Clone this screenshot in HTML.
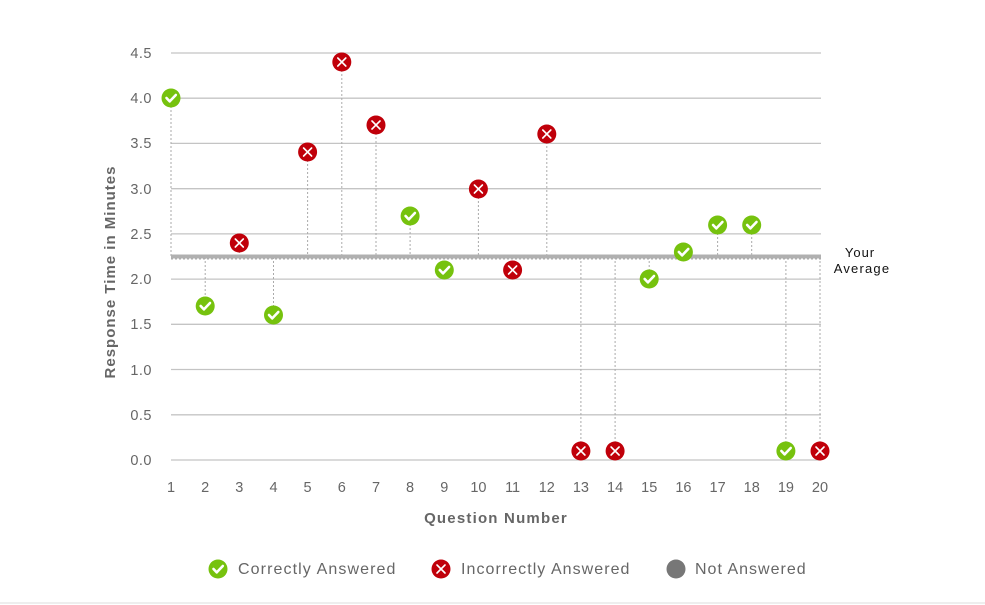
<!DOCTYPE html>
<html><head><meta charset="utf-8"><style>
body{margin:0;background:#fff;}
svg{display:block;font-family:"Liberation Sans",sans-serif;}
</style></head><body>
<svg width="985" height="605" viewBox="0 0 985 605">
<defs>
<g id="c"><circle r="9.5" fill="#76c20e"/><polyline points="-4.5,0 -1.3,3.4 4.8,-3" fill="none" stroke="#fff" stroke-width="2.6" stroke-linecap="round" stroke-linejoin="round"/></g>
<g id="x"><circle r="9.5" fill="#c0000a"/><path d="M-4,-4L4,4M4,-4L-4,4" stroke="#fff" stroke-width="1.6" stroke-linecap="round"/></g>
</defs>
<g stroke="#c4c4c4" stroke-width="1.3">
<line x1="171" x2="821" y1="53" y2="53"/><line x1="171" x2="821" y1="98.2" y2="98.2"/>
<line x1="171" x2="821" y1="143.4" y2="143.4"/><line x1="171" x2="821" y1="188.7" y2="188.7"/>
<line x1="171" x2="821" y1="233.9" y2="233.9"/><line x1="171" x2="821" y1="279.1" y2="279.1"/>
<line x1="171" x2="821" y1="324.3" y2="324.3"/><line x1="171" x2="821" y1="369.5" y2="369.5"/>
<line x1="171" x2="821" y1="414.8" y2="414.8"/><line x1="171" x2="821" y1="460" y2="460"/>
</g>
<g fill="#666" font-size="14.5" text-anchor="end" letter-spacing="0.5">
<text x="152" y="58">4.5</text><text x="152" y="103">4.0</text><text x="152" y="148">3.5</text>
<text x="152" y="194">3.0</text><text x="152" y="239">2.5</text><text x="152" y="284">2.0</text>
<text x="152" y="329">1.5</text><text x="152" y="375">1.0</text><text x="152" y="420">0.5</text><text x="152" y="465">0.0</text>
</g>
<g stroke="#aaa" stroke-width="1" stroke-dasharray="2,2">
<line x1="171" x2="171" y1="98" y2="257"/><line x1="205.2" x2="205.2" y1="257" y2="306"/>
<line x1="239.3" x2="239.3" y1="243" y2="257"/><line x1="273.5" x2="273.5" y1="257" y2="315"/>
<line x1="307.6" x2="307.6" y1="152" y2="257"/><line x1="341.8" x2="341.8" y1="62" y2="257"/>
<line x1="376" x2="376" y1="125" y2="257"/><line x1="410.1" x2="410.1" y1="216" y2="257"/>
<line x1="444.3" x2="444.3" y1="257" y2="270"/><line x1="478.4" x2="478.4" y1="189" y2="257"/>
<line x1="512.6" x2="512.6" y1="257" y2="270"/><line x1="546.8" x2="546.8" y1="134" y2="257"/>
<line x1="580.9" x2="580.9" y1="257" y2="451"/><line x1="615.1" x2="615.1" y1="257" y2="451"/>
<line x1="649.2" x2="649.2" y1="257" y2="279"/><line x1="683.4" x2="683.4" y1="252" y2="257"/>
<line x1="717.6" x2="717.6" y1="225" y2="257"/><line x1="751.7" x2="751.7" y1="225" y2="257"/>
<line x1="785.9" x2="785.9" y1="257" y2="451"/><line x1="820" x2="820" y1="257" y2="451"/>
<line x1="171" x2="821" y1="259" y2="259"/>
</g>
<rect x="171" y="254.5" width="650" height="4" fill="#b0b0b0"/>
<use href="#c" x="171" y="98"/><use href="#c" x="205.2" y="306"/><use href="#x" x="239.3" y="243"/>
<use href="#c" x="273.5" y="315"/><use href="#x" x="307.6" y="152"/><use href="#x" x="341.8" y="62"/>
<use href="#x" x="376" y="125"/><use href="#c" x="410.1" y="216"/><use href="#c" x="444.3" y="270"/>
<use href="#x" x="478.4" y="189"/><use href="#x" x="512.6" y="270"/><use href="#x" x="546.8" y="134"/>
<use href="#x" x="580.9" y="451"/><use href="#x" x="615.1" y="451"/><use href="#c" x="649.2" y="279"/>
<use href="#c" x="683.4" y="252"/><use href="#c" x="717.6" y="225"/><use href="#c" x="751.7" y="225"/>
<use href="#c" x="785.9" y="451"/><use href="#x" x="820" y="451"/>
<g fill="#666" font-size="14.5" text-anchor="middle">
<text x="171" y="492">1</text><text x="205.2" y="492">2</text><text x="239.3" y="492">3</text><text x="273.5" y="492">4</text>
<text x="307.6" y="492">5</text><text x="341.8" y="492">6</text><text x="376" y="492">7</text><text x="410.1" y="492">8</text>
<text x="444.3" y="492">9</text><text x="478.4" y="492">10</text><text x="512.6" y="492">11</text><text x="546.8" y="492">12</text>
<text x="580.9" y="492">13</text><text x="615.1" y="492">14</text><text x="649.2" y="492">15</text><text x="683.4" y="492">16</text>
<text x="717.6" y="492">17</text><text x="751.7" y="492">18</text><text x="785.9" y="492">19</text><text x="820" y="492">20</text>
</g>
<text x="496" y="523" fill="#666" font-size="15" font-weight="bold" text-anchor="middle" letter-spacing="1.2">Question Number</text>
<text transform="translate(115,272) rotate(-90)" fill="#666" font-size="15" font-weight="bold" text-anchor="middle" letter-spacing="1">Response Time in Minutes</text>
<text x="860" y="257" font-size="13" fill="#111" text-anchor="middle" letter-spacing="1">Your</text>
<text x="862" y="273" font-size="13" fill="#111" text-anchor="middle" letter-spacing="1.2">Average</text>
<use href="#c" x="218" y="569"/>
<text x="238" y="574" fill="#666" font-size="16" letter-spacing="1.1">Correctly Answered</text>
<use href="#x" x="441" y="569"/>
<text x="461" y="574" fill="#666" font-size="16" letter-spacing="1.05">Incorrectly Answered</text>
<circle cx="676" cy="569" r="9.5" fill="#777"/>
<text x="695" y="574" fill="#666" font-size="16" letter-spacing="1">Not Answered</text>
<line x1="0" x2="985" y1="603" y2="603" stroke="#eee" stroke-width="2"/>
</svg>
</body></html>
